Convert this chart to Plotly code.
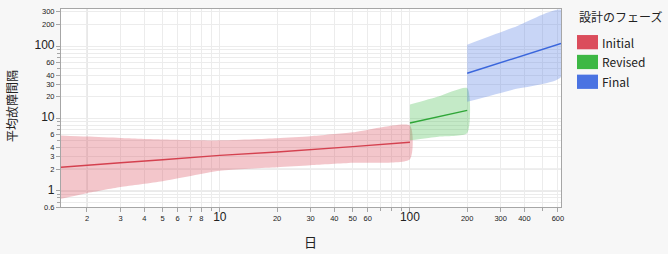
import math
import plotly.graph_objects as go

# ---- data ----
phases = ["Initial", "Revised", "Final"]

x_initial = [1.46, 2, 3, 5, 10, 20, 30, 50, 100]
mid_initial = [2.13, 2.28, 2.45, 2.7, 3.1, 3.45, 3.7, 4.1, 4.7]
lo_initial = [0.78, 0.93, 1.13, 1.36, 1.9, 2.13, 2.27, 2.45, 2.74]
hi_initial = [5.85, 5.65, 5.4, 5.15, 5.0, 5.35, 5.7, 6.45, 8.0]

x_revised = [100, 141, 200]
mid_revised = [8.7, 10.6, 13.0]
lo_revised = [5.0, 5.6, 6.3]
hi_revised = [15.6, 20.2, 26.4]

x_final = [200, 350, 623]
mid_final = [42.3, 67.6, 109]
lo_final = [17.1, 25.2, 37.6]
hi_final = [105, 181, 318]

x_tick_vals = [2, 3, 4, 5, 6, 7, 8, 10, 20, 30, 40, 50, 60, 100, 200, 300, 400, 600]
x_minor_vals = [9, 70, 80, 90, 500]
y_tick_vals = [0.6, 1, 2, 3, 4, 6, 10, 20, 30, 40, 60, 100, 200, 300]
y_minor_vals = [0.7, 0.8, 0.9, 5, 7, 8, 9, 50, 70, 80, 90]
major_vals = [1, 10, 100]

line_colors = ["#d4414f", "#2fa638", "#3a66dc"]
swatch_colors = ["#db4d5c", "#3db845", "#4a73e2"]
band_colors = ["rgba(219,77,92,0.32)", "rgba(61,184,69,0.30)", "rgba(74,115,226,0.30)"]

FONT = "Noto Sans CJK JP, Noto Sans, sans-serif"
TICK_FONT = "Liberation Sans, Arial, sans-serif"

def fmt(v, big):
    s = f"{v:g}"
    if v in big:
        return f"<span style='font-size:12px'>{s}</span>"
    return s

fig = go.Figure()
series = [
    (x_initial, mid_initial, lo_initial, hi_initial),
    (x_revised, mid_revised, lo_revised, hi_revised),
    (x_final, mid_final, lo_final, hi_final),
]
for i, (xs, mid, lo, hi) in enumerate(series):
    fig.add_trace(go.Scatter(
        x=list(xs) + list(xs)[::-1], y=list(hi) + list(lo)[::-1],
        fill="toself", fillcolor=band_colors[i], mode="lines",
        line=dict(width=0, shape="spline", smoothing=0.6),
        hoverinfo="skip", showlegend=False))
for i, (xs, mid, lo, hi) in enumerate(series):
    fig.add_trace(go.Scatter(
        x=xs, y=mid, mode="lines", name=phases[i],
        line=dict(color=line_colors[i], width=1.4), showlegend=False))

# darker gridlines at decades
for v in [10, 100]:
    fig.add_shape(type="line", xref="x", yref="paper", x0=math.log10(v), x1=math.log10(v),
                  y0=0, y1=1, line=dict(color="#cfcfcf", width=1), layer="between")
for v in major_vals:
    fig.add_shape(type="line", xref="paper", yref="y", x0=0, x1=1,
                  y0=math.log10(v), y1=math.log10(v),
                  line=dict(color="#cfcfcf", width=1), layer="between")

# custom legend
PLOT_W, PLOT_H, L, T = 500, 200, 61, 7
def px_x(p):
    return (p - L) / PLOT_W
def px_y(p):
    return (T + PLOT_H - p) / PLOT_H

fig.add_annotation(text="設計のフェーズ", xref="paper", yref="paper",
                   x=px_x(577), y=px_y(14.5), xanchor="left", yanchor="middle",
                   showarrow=False, font=dict(family=FONT, size=12, color="#222"))
for i, name in enumerate(phases):
    top = 33.3 + 20 * i
    fig.add_shape(type="rect", xref="paper", yref="paper",
                  x0=px_x(577), x1=px_x(598), y0=px_y(top + 14.4), y1=px_y(top),
                  fillcolor=swatch_colors[i], line=dict(width=0))
    fig.add_annotation(text=name, xref="paper", yref="paper",
                       x=px_x(600), y=px_y(top + 7.2), xanchor="left", yanchor="middle",
                       showarrow=False, font=dict(family=FONT, size=12, color="#222"))

# axis titles
fig.add_annotation(text="平均故障間隔", xref="paper", yref="paper",
                   x=px_x(11), y=px_y(105), textangle=-90, showarrow=False,
                   xanchor="center", yanchor="middle",
                   font=dict(family=FONT, size=12, color="#222"))
fig.add_annotation(text="日", xref="paper", yref="paper",
                   x=px_x(310), y=px_y(242), showarrow=False,
                   xanchor="center", yanchor="middle",
                   font=dict(family=FONT, size=13, color="#222"))

axis_common = dict(
    type="log", showline=True, linecolor="#a6a6a6", linewidth=1, mirror=True,
    ticks="outside", ticklen=4, tickcolor="#a6a6a6",
    showgrid=True, gridcolor="#ececec", gridwidth=1,
    tickfont=dict(family=TICK_FONT, size=7.5, color="#222"),
    tickmode="array",
)

fig.update_xaxes(
    **axis_common,
    range=[math.log10(1.46), math.log10(623)],
    tickvals=x_tick_vals, ticktext=[fmt(v, [10, 100]) for v in x_tick_vals],
    minor=dict(tickmode="array", tickvals=x_minor_vals, ticks="outside", ticklen=3,
               tickcolor="#a6a6a6", showgrid=True, gridcolor="#ececec"),
)
fig.update_yaxes(
    **axis_common,
    range=[math.log10(0.6), math.log10(327)],
    tickvals=y_tick_vals, ticktext=[fmt(v, [1, 10, 100]) for v in y_tick_vals],
    minor=dict(tickmode="array", tickvals=y_minor_vals, ticks="outside", ticklen=3,
               tickcolor="#a6a6a6", showgrid=True, gridcolor="#ececec"),
)

fig.update_layout(
    width=668, height=254,
    margin=dict(l=61, r=107, t=7, b=47),
    paper_bgcolor="#f7f7f7", plot_bgcolor="#ffffff",
    showlegend=False,
    font=dict(family=FONT),
)

fig.write_html("out.html")
